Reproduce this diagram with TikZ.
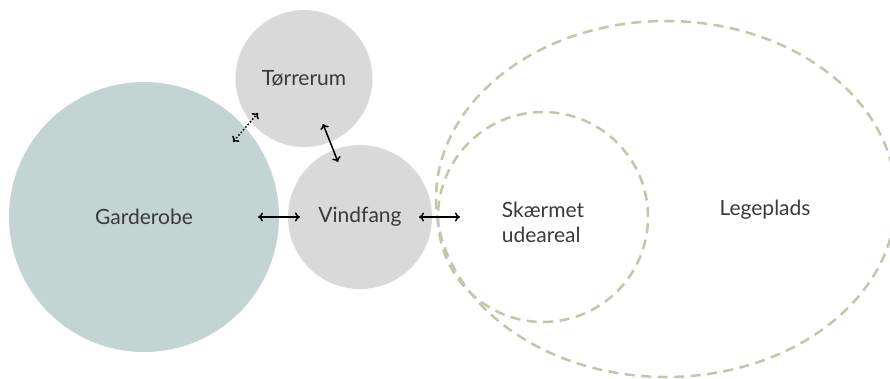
\documentclass[tikz,border=0pt]{standalone}
\usepackage{fontspec}
\setmainfont{Lato}
\usetikzlibrary{shapes.geometric,arrows.meta}
\definecolor{teal}{HTML}{C3D5D3}
\definecolor{lgrey}{HTML}{D9D9D9}
\definecolor{olive}{HTML}{C4C5A9}
\definecolor{txt}{HTML}{3A3A3A}
\tikzset{
  room/.style={circle, inner sep=0pt, text=txt, font=\fontsize{21}{25}\selectfont},
  zone/.style={draw=olive, line width=2.5pt, dash pattern=on 10pt off 6.5pt, inner sep=0pt},
  lbl/.style={text=txt, font=\fontsize{21}{25}\selectfont, align=left, inner sep=0pt},
  link/.style={{To[length=5pt,width=9pt]}-{To[length=5pt,width=9pt]}, line width=1.5pt, black},
  dotlink/.style={link, dotted}
}
\begin{document}
\begin{tikzpicture}[x=1pt,y=-1pt]
\useasboundingbox (0,0) rectangle (890,378);
\node[room, fill=teal, minimum size=270pt] (gard) at (144,217) {Garderobe};
\node[room, fill=lgrey, minimum size=137pt] (torr) at (304,78.5) {Tørrerum};
\node[room, fill=lgrey, minimum size=144pt] (vind) at (360,217) {Vindfang};
\node[zone, circle, minimum size=210pt] (skaer) at (543,217) {};
\node[zone, ellipse, minimum width=460pt, minimum height=356pt] (lege) at (666,199) {};
\node[lbl] (skaertxt) at (543,222) {Skærmet\\udeareal};
\node[lbl] (legetxt) at (765,210) {Legeplads};
\coordinate (a1) at (258,217); \coordinate (a2) at (300,217);
\coordinate (b1) at (419,217); \coordinate (b2) at (460,217);
\coordinate (c1) at (323,124); \coordinate (c2) at (338,162);
\coordinate (d1) at (233,142); \coordinate (d2) at (258,113);
\draw[link] (a1) -- (a2);
\draw[link] (b1) -- (b2);
\draw[link] (c1) -- (c2);
\draw[dotlink] (d1) -- (d2);
\end{tikzpicture}
\end{document}
